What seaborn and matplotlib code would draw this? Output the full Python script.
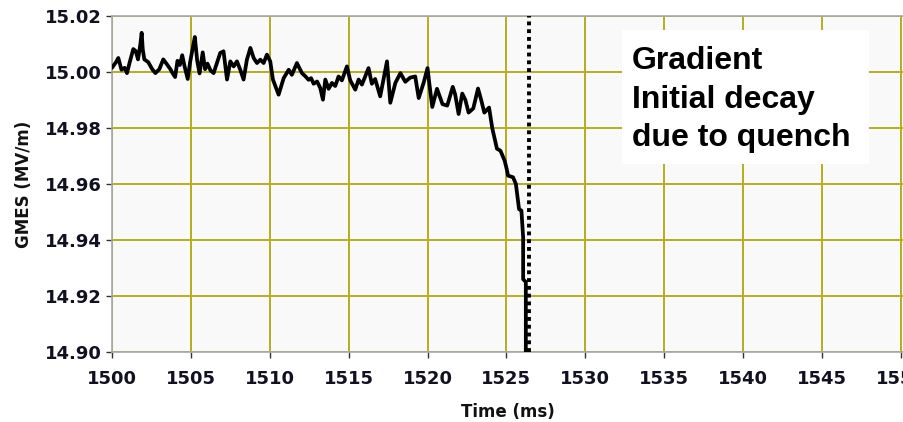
#
# GMES gradient trace before a quench
#

import numpy as np
import pandas as pd
from matplotlib import pyplot as plt
from matplotlib.patches import Rectangle
import seaborn as sns

#
# Data
#

time_ms = [
    1500.00, 1500.25, 1500.40, 1500.60, 1500.80, 1500.95, 1501.10, 1501.35, 1501.50, 1501.65,
    1501.80, 1501.88, 1501.95, 1502.05, 1502.30, 1502.55, 1502.75, 1503.00, 1503.25, 1503.45,
    1503.70, 1503.85, 1504.00, 1504.15, 1504.30, 1504.45, 1504.60, 1504.80, 1504.95, 1505.10,
    1505.25, 1505.40, 1505.55, 1505.75, 1505.90, 1506.05, 1506.25, 1506.44, 1506.65, 1506.86,
    1507.07, 1507.29, 1507.50, 1507.71, 1507.92, 1508.13, 1508.34, 1508.55, 1508.77, 1508.98,
    1509.19, 1509.40, 1509.61, 1509.82, 1510.03, 1510.20, 1510.56, 1510.88, 1511.20, 1511.40,
    1511.72, 1512.04, 1512.25, 1512.46, 1512.62, 1512.78, 1513.00, 1513.20, 1513.37, 1513.52,
    1513.73, 1513.94, 1514.15, 1514.36, 1514.57, 1514.89, 1515.10, 1515.42, 1515.63, 1515.84,
    1516.05, 1516.26, 1516.47, 1516.68, 1517.00, 1517.43, 1517.64, 1517.96, 1518.28, 1518.59,
    1518.90, 1519.22, 1519.44, 1519.75, 1520.00, 1520.10, 1520.30, 1520.60, 1520.95, 1521.25,
    1521.60, 1521.75, 1521.97, 1522.20, 1522.40, 1522.60, 1522.90, 1523.20, 1523.40, 1523.60,
    1523.90, 1524.10, 1524.40, 1524.62, 1524.89, 1525.04, 1525.10, 1525.42, 1525.60, 1525.68,
    1525.80, 1525.95, 1526.06, 1526.06, 1526.23, 1526.23,
]
gmes = [
    15.0015, 15.0035, 15.0050, 15.0008, 15.0015, 14.9996, 15.0030, 15.0082, 15.0075, 15.0045,
    15.0100, 15.0140, 15.0080, 15.0045, 15.0035, 15.0010, 14.9996, 15.0010, 15.0045, 15.0030,
    15.0010, 14.9995, 14.9982, 15.0040, 15.0025, 15.0060, 15.0020, 14.9975, 15.0035, 15.0080,
    15.0125, 15.0040, 14.9995, 15.0070, 15.0010, 15.0030, 15.0005, 14.9996, 15.0032, 15.0068,
    15.0074, 14.9973, 15.0038, 15.0020, 15.0038, 15.0008, 14.9973, 15.0044, 15.0086, 15.0050,
    15.0032, 15.0044, 15.0032, 15.0062, 15.0038, 14.9973, 14.9919, 14.9978, 15.0008, 14.9990,
    15.0032, 14.9996, 14.9985, 14.9972, 14.9978, 14.9958, 14.9966, 14.9943, 14.9901, 14.9973,
    14.9940, 14.9961, 14.9950, 14.9984, 14.9970, 15.0020, 14.9970, 14.9937, 14.9973, 14.9955,
    14.9984, 15.0014, 14.9958, 14.9975, 14.9913, 15.0038, 14.9890, 14.9961, 14.9996, 14.9965,
    14.9980, 14.9984, 14.9907, 14.9961, 15.0014, 14.9965, 14.9875, 14.9940, 14.9885, 14.9880,
    14.9947, 14.9920, 14.9850, 14.9923, 14.9900, 14.9855, 14.9870, 14.9941, 14.9900, 14.9855,
    14.9873, 14.9800, 14.9726, 14.9719, 14.9683, 14.9648, 14.9630, 14.9624, 14.9600, 14.9564,
    14.9510, 14.9505, 14.9410, 14.9260, 14.9250, 14.8990,
]
quench_ms = 1526.44
x_ticks = [1500, 1505, 1510, 1515, 1520, 1525, 1530, 1535, 1540, 1545, 1550]
y_ticks = [14.90, 14.92, 14.94, 14.96, 14.98, 15.00, 15.02]
note = "Gradient\nInitial decay\ndue to quench"

#
# Plotting
#

sns.set_style("ticks")
plt.rcParams['font.family'] = ['DejaVu Sans']

grid_col = "#b5ad1e"

fig = plt.figure(figsize=(9.04, 4.22), dpi=100)
ax = fig.add_axes([112/904, 1 - 352/422, 1 - 112/904, (352 - 16)/422])
ax.set_facecolor("#f9f9f9")

df = pd.DataFrame({"Time": time_ms, "GMES": gmes})
sns.lineplot(x="Time", y="GMES", data=df, ax=ax, estimator=None, sort=False,
             color="black", linewidth=2.7, zorder=3)

ax.axvline(quench_ms, color="black", linewidth=2.8, linestyle=(0, (1, 1)), zorder=4)

ax.set_xlim(1500, 1550.2)
ax.set_ylim(14.90, 15.02)
ax.set_xticks(x_ticks)
ax.set_yticks(y_ticks)
ax.set_xticklabels([str(t) for t in x_ticks])
ax.set_yticklabels(["{:.2f}".format(v) for v in y_ticks])
ax.grid(True, color=grid_col, linewidth=1.4)
ax.set_axisbelow(True)

for s in ax.spines.values():
    s.set_color("#a8a8a8")
    s.set_linewidth(1.2)

ax.tick_params(axis="both", length=4, width=1, color="#333333", labelsize=13,
               labelcolor="#111122")
ax.tick_params(axis="x", pad=9)
for lab in ax.get_xticklabels() + ax.get_yticklabels():
    lab.set_fontweight("bold")

ax.set_xlabel("Time (ms)", fontsize=12, fontweight="bold", labelpad=11, color="#111111")
ax.set_ylabel("GMES (MV/m)", fontsize=12, fontweight="bold", labelpad=8, color="#111111")

# white box with the note
ax.add_patch(Rectangle((622/904, 1 - 164/422), 247/904, 134/422,
                       transform=fig.transFigure, facecolor="white", edgecolor="none",
                       zorder=5, clip_on=False))
ax.text(632/904, 1 - 46/422, note, transform=fig.transFigure, ha="left", va="top",
        fontsize=23, fontweight="bold", family=["Liberation Sans", "DejaVu Sans"],
        linespacing=1.38, color="black", zorder=6)

plt.savefig("out.png", dpi=100)
